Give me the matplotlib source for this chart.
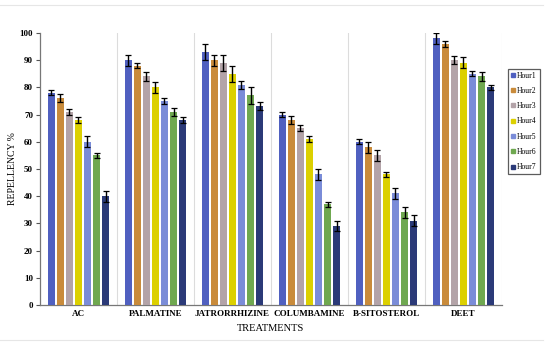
import matplotlib
matplotlib.use("Agg")
import matplotlib.pyplot as plt
import numpy as np
from matplotlib.lines import Line2D

# data
treatments = ["AC", "PALMATINE", "JATRORRHIZINE", "COLUMBAMINE", "B-SITOSTEROL", "DEET"]
hours = ["Hour1", "Hour2", "Hour3", "Hour4", "Hour5", "Hour6", "Hour7"]

ac = [78, 76, 71, 68, 60, 55, 40]
palmatine = [90, 88, 84, 80, 75, 71, 68]
jatrorrhizine = [93, 90, 89, 85, 81, 77, 73]
columbamine = [70, 68, 65, 61, 48, 37, 29]
sitosterol = [60, 58, 55, 48, 41, 34, 31]
deet = [98, 96, 90, 89, 85, 84, 80]

ac_err = [1, 1.5, 1, 1, 2, 1, 2]
palmatine_err = [2, 1, 1.5, 2, 1, 1.5, 1]
jatrorrhizine_err = [3, 2, 3, 3, 1.5, 3, 1.5]
columbamine_err = [1, 1.5, 1, 1, 2, 1, 2]
sitosterol_err = [1, 2, 2, 1, 2, 2, 2]
deet_err = [2, 1, 1.5, 2, 1, 1.5, 1]

values = np.array([ac, palmatine, jatrorrhizine, columbamine, sitosterol, deet])
errors = np.array([ac_err, palmatine_err, jatrorrhizine_err, columbamine_err, sitosterol_err, deet_err])

colors = ["#5060c0", "#c98b3b", "#b3a3a8", "#dcd000", "#7a8cd8", "#6fa850", "#2b3a78"]

plt.rcParams['font.family'] = ['Liberation Serif', 'DejaVu Serif']

fig = plt.figure(figsize=(5.5, 3.43), dpi=100)
ax = fig.add_axes([0.0727, 0.111, 0.84, 0.793])

x = np.arange(len(treatments)) + 0.5
step = 0.117
width = 0.092
for j, h in enumerate(hours):
    ax.bar(x + (j - 3) * step, values[:, j], width, color=colors[j], label=h,
           yerr=errors[:, j], error_kw=dict(ecolor="black", elinewidth=1.0, capsize=2, capthick=0.9),
           zorder=3)

# light separators between groups
for i in range(1, len(treatments) + 1):
    ax.axvline(i, color="#dcdcdc", lw=0.8, zorder=1)

ax.set_xlim(0, len(treatments))
ax.set_ylim(0, 100)
ax.set_yticks(np.arange(0, 101, 10))
ax.set_xticks(x)
ax.set_xticklabels(treatments, fontsize=6.5, fontweight="bold")
ax.tick_params(axis="x", length=0, pad=4)
ax.tick_params(axis="y", length=3, width=0.8, labelsize=6.5, pad=2, color="#555555")
for lab in ax.get_yticklabels():
    lab.set_fontweight("bold")

ax.spines["top"].set_visible(False)
ax.spines["right"].set_visible(False)
ax.spines["left"].set_color("#777777")
ax.spines["bottom"].set_color("#777777")
ax.spines["left"].set_linewidth(0.9)
ax.spines["bottom"].set_linewidth(0.9)

ax.set_ylabel("REPELLENCY %", fontsize=7)
ax.yaxis.set_label_coords(-0.05, 0.5)
ax.set_xlabel("TREATMENTS", fontsize=7.5, labelpad=4)

handles = [Line2D([], [], marker="s", ls="none", color=c, markersize=2.5) for c in colors]
leg = ax.legend(handles, hours, loc="upper left", bbox_to_anchor=(0.924, 0.80),
                bbox_transform=fig.transFigure, fontsize=5.5, frameon=True, fancybox=False,
                handlelength=0.5, handletextpad=0.25, labelspacing=0.95, borderpad=0.4,
                borderaxespad=0)
leg.get_frame().set_edgecolor("#333333")
leg.get_frame().set_linewidth(0.9)

# faint outer frame lines
fig.add_artist(Line2D([0.0, 0.987], [0.985, 0.985], color="#e6e6e6", lw=0.8, transform=fig.transFigure))
fig.add_artist(Line2D([0.0, 0.987], [0.01, 0.01], color="#e6e6e6", lw=0.8, transform=fig.transFigure))

fig.savefig("out.png", dpi=100)
